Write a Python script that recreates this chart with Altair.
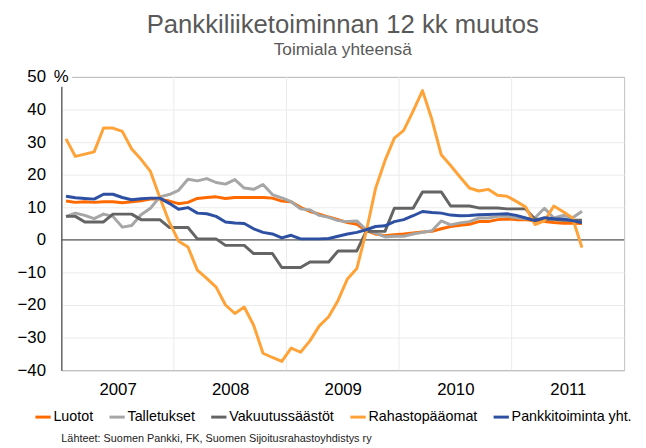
import altair as alt
import pandas as pd

# ---------------- data (monthly 12-month change, %) ----------------
start_month = "2007-01-01"
n_months = 56

luotot = [11.9, 11.5, 11.7, 11.5, 11.7, 11.7, 11.4, 11.7, 12.0, 12.5,
          12.5, 11.9, 11.1, 11.5, 12.7, 13.0, 13.2, 12.7, 13.0, 13.0,
          13.0, 13.0, 12.8, 11.9, 11.7, 10.0, 8.7, 7.9, 7.0, 6.2,
          5.3, 4.8, 2.8, 1.8, 1.3, 1.6, 1.8, 2.1, 2.4, 2.6,
          3.4, 4.1, 4.5, 4.8, 5.6, 5.6, 6.2, 6.4, 6.2, 6.2,
          5.8, 5.6, 5.3, 5.1, 5.1, 5.0]

talletukset = [7.2, 8.2, 7.5, 6.5, 7.9, 7.2, 3.9, 4.4, 7.7, 9.7,
               13.2, 13.9, 15.2, 18.6, 18.1, 18.8, 17.6, 17.1, 18.5, 15.9,
               15.5, 17.0, 13.9, 12.9, 11.7, 9.5, 9.2, 7.5, 6.9, 5.9,
               5.6, 5.8, 3.1, 2.1, 0.9, 1.1, 1.1, 1.8, 2.3, 2.8,
               5.8, 4.6, 5.2, 5.6, 6.7, 6.7, 7.2, 7.2, 6.8, 6.5,
               6.8, 9.7, 6.7, 7.5, 6.8, 8.8]

vakuutus = [7.2, 7.2, 5.5, 5.5, 5.5, 7.9, 7.9, 7.9, 6.2, 6.2,
            6.2, 3.8, 3.8, 3.8, 0.3, 0.3, 0.3, -1.7, -1.7, -1.7,
            -4.2, -4.2, -4.2, -8.5, -8.5, -8.5, -6.8, -6.8, -6.8, -3.4,
            -3.4, -3.4, 2.6, 2.6, 2.6, 9.7, 9.7, 9.7, 14.7, 14.7,
            14.7, 10.4, 10.4, 10.4, 9.8, 9.8, 9.8, 9.5, 9.5, 9.5,
            6.3, 6.3, 6.3, 6.0, 6.0, 6.0]

rahasto = [31.0, 25.6, 26.3, 27.0, 34.3, 34.3, 33.3, 27.9, 24.7, 21.0,
           13.0, 5.5, -0.4, -2.2, -9.3, -11.8, -14.5, -20.0, -22.6, -20.6,
           -26.2, -34.8, -36.1, -37.3, -33.2, -34.5, -31.0, -26.4, -23.6, -18.6,
           -12.0, -8.8, 2.5, 15.8, 24.3, 31.2, 33.6, 39.5, 45.8, 37.0,
           26.1, 22.8, 19.3, 15.9, 15.0, 15.5, 13.7, 13.4, 11.8, 10.1,
           4.7, 5.8, 10.4, 8.6, 6.7, -2.4]

pankki = [13.4, 12.9, 12.7, 12.5, 14.0, 14.0, 13.0, 12.3, 12.6, 12.8,
          12.8, 11.2, 9.4, 9.9, 8.2, 8.0, 7.2, 5.5, 5.2, 5.0,
          3.4, 2.3, 1.8, 0.6, 1.4, 0.3, 0.3, 0.3, 0.4, 1.1,
          1.8, 2.3, 3.1, 4.1, 4.3, 5.6, 6.2, 7.4, 8.7, 8.4,
          8.2, 7.6, 7.4, 7.5, 7.7, 7.8, 7.9, 8.0, 7.5, 6.7,
          5.9, 6.8, 6.5, 6.4, 5.9, 5.2]

series_names = ["Luotot", "Talletukset", "Vakuutussäästöt",
                "Rahastopääomat", "Pankkitoiminta yht."]
series_values = [luotot, talletukset, vakuutus, rahasto, pankki]
colors = ["#FF6A00", "#A6A6A6", "#646464", "#FFA238", "#2E50A2"]

years = [2007, 2008, 2009, 2010, 2011]
y_ticks = list(range(-40, 51, 10))

title_text = "Pankkiliiketoiminnan 12 kk muutos"
subtitle_text = "Toimiala yhteensä"
unit_text = "%"
source_text = "Lähteet: Suomen Pankki, FK, Suomen Sijoitusrahastoyhdistys ry"

# ---------------- build tables ----------------
dates = pd.date_range(start_month, periods=n_months, freq="MS")
mpos = [(d.year - years[0]) * 12 + d.month - 1 + 0.5 for d in dates]

rows = []
for name, vals in zip(series_names, series_values):
    for d, m, v in zip(dates, mpos, vals):
        rows.append({"series": name, "date": d.strftime("%Y-%m"), "m": m, "v": v})
df = pd.DataFrame(rows)

bounds_df = pd.DataFrame({"m": [(y - years[0]) * 12 for y in years[1:]]})
zero_df = pd.DataFrame({"v": [0]})
unit_df = pd.DataFrame({"t": [unit_text]})
src_df = pd.DataFrame({"t": [source_text]})

FONT = "Liberation Sans"
label_pos = [(y - years[0]) * 12 + 6 for y in years]

x_enc = alt.X("m:Q",
              scale=alt.Scale(domain=[0, len(years) * 12], nice=False, zero=False),
              axis=alt.Axis(values=label_pos, title=None, grid=False, ticks=False,
                            domain=False, labelExpr=f"format({years[0]} - 0.5 + datum.value/12, 'd')",
                            labelFontSize=17, labelFont=FONT, labelColor="black",
                            labelPadding=12))
y_enc = alt.Y("v:Q",
              scale=alt.Scale(domain=[y_ticks[0], y_ticks[-1]], nice=False),
              axis=alt.Axis(values=y_ticks, title=None, grid=True, ticks=False,
                            gridColor={"condition": {"test": f"datum.value == {y_ticks[0]} || datum.value == {y_ticks[-1]}",
                                                     "value": "#bfbfbf"},
                                       "value": "#ebebeb"},
                            domainColor="#595959", domainWidth=1.3,
                            labelFontSize=17, labelFont=FONT, labelColor="black",
                            labelPadding=16))

legend = alt.Legend(orient="none", legendX=-28, legendY=335, direction="horizontal",
                    columns=5, title=None, symbolType="stroke", symbolStrokeWidth=3,
                    symbolSize=240, labelFontSize=14.5, labelFont=FONT, labelColor="black",
                    columnPadding=9, labelOffset=1, symbolOffset=0, labelLimit=300)
color_enc = alt.Color("series:N", scale=alt.Scale(domain=series_names, range=colors),
                      legend=legend)

vgrid = alt.Chart(bounds_df).mark_rule(color="#ebebeb", strokeWidth=1).encode(x=x_enc)
zero = alt.Chart(zero_df).mark_rule(color="#595959", strokeWidth=1.3).encode(y=y_enc)

lines = []
for name in series_names:
    lines.append(
        alt.Chart(df).transform_filter(alt.datum.series == name)
        .mark_line(strokeWidth=3, strokeJoin="round")
        .encode(x=x_enc, y=y_enc, color=color_enc, order="m:Q")
    )

unit_box = alt.Chart(unit_df).mark_rect(color="white").encode(
    x=alt.value(-9), x2=alt.value(11), y=alt.value(-9), y2=alt.value(10))
unit = alt.Chart(unit_df).mark_text(fontSize=17, font=FONT, color="black",
                                    align="center", baseline="middle").encode(
    x=alt.value(0), y=alt.value(0), text="t:N")
source = alt.Chart(src_df).mark_text(fontSize=11, font=FONT, color="#222222",
                                     align="left", baseline="middle").encode(
    x=alt.value(0), y=alt.value(367), text="t:N")

chart = alt.layer(vgrid, zero, *lines, unit_box, unit, source).properties(
    width=570, height=297,
    autosize=alt.AutoSizeParams(type="none"),
    padding={"left": 54, "top": 67, "right": 14, "bottom": 76},
    title=alt.TitleParams(text=title_text, subtitle=subtitle_text, fontSize=26,
                          subtitleFontSize=17.5, font=FONT, subtitleFont=FONT,
                          fontWeight="normal", color="#595959", subtitleColor="#595959",
                          anchor="middle", frame="group", offset=10, subtitlePadding=3),
).configure_view(stroke="#bfbfbf", strokeWidth=1)

chart.save("out.html", embed_options={"renderer": "svg", "actions": False})
